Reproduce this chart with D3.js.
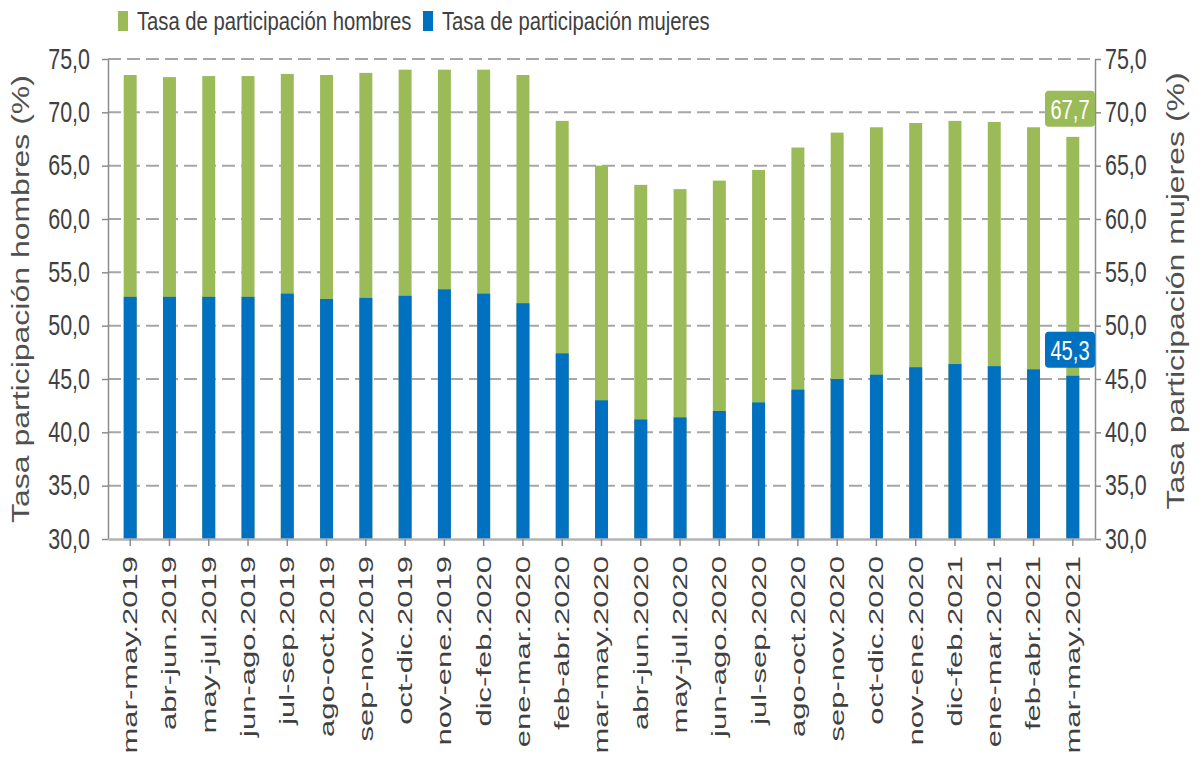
<!DOCTYPE html>
<html>
<head>
<meta charset="utf-8">
<script src="https://cdn.jsdelivr.net/npm/d3@7"></script>
<style>
  body { margin: 0; background: #fff; }
  text { font-family: "Liberation Sans", Arial, sans-serif; }
</style>
</head>
<body>
<div class="chart"></div>
<script>
// periods (moving quarters)
var periods = [
  "mar-may.2019", "abr-jun.2019", "may-jul.2019", "jun-ago.2019", "jul-sep.2019",
  "ago-oct.2019", "sep-nov.2019", "oct-dic.2019", "nov-ene.2019", "dic-feb.2020",
  "ene-mar.2020", "feb-abr.2020", "mar-may.2020", "abr-jun.2020", "may-jul.2020",
  "jun-ago.2020", "jul-sep.2020", "ago-oct.2020", "sep-nov.2020", "oct-dic.2020",
  "nov-ene.2020", "dic-feb.2021", "ene-mar.2021", "feb-abr.2021", "mar-may.2021"
];

// participation rate, men (%)
var hombres = [73.5, 73.3, 73.4, 73.4, 73.6, 73.5, 73.7, 74.0, 74.0, 74.0,
  73.5, 69.2, 65.0, 63.2, 62.8, 63.6, 64.6, 66.7, 68.1, 68.6,
  69.0, 69.2, 69.1, 68.6, 67.7];

// participation rate, women (%)
var mujeres = [52.7, 52.7, 52.7, 52.7, 53.0, 52.5, 52.6, 52.8, 53.4, 53.0,
  52.1, 47.4, 43.0, 41.2, 41.4, 42.0, 42.8, 44.0, 45.0, 45.4,
  46.1, 46.4, 46.2, 45.9, 45.3];

var yTicks = [30, 35, 40, 45, 50, 55, 60, 65, 70, 75];

var legendLabels = ["Tasa de participación hombres", "Tasa de participación mujeres"];

var green = "#9bbb59";
var blue = "#0070c0";

var svgWidth = 1202;
var svgHeight = 759;

var margin = { top: 59, right: 107, bottom: 220, left: 108 };
var width = svgWidth - margin.left - margin.right;
var height = svgHeight - margin.top - margin.bottom;

var fmt = d => d.toFixed(1).replace(".", ",");

var svg = d3.select(".chart")
  .append("svg")
  .attr("width", svgWidth)
  .attr("height", svgHeight);

var chartGroup = svg.append("g")
  .attr("transform", `translate(${margin.left}, ${margin.top})`);

// scales
var xScale = d3.scaleBand()
  .domain(periods)
  .range([0, width])
  .paddingInner(0.67)
  .paddingOuter(0.4);

var yScale = d3.scaleLinear()
  .domain([30, 75])
  .range([height, 0]);

// dashed grid lines
chartGroup.append("g")
  .selectAll("line")
  .data(yTicks.filter(d => d > 30))
  .enter()
  .append("line")
  .attr("x1", 0)
  .attr("x2", width)
  .attr("y1", d => yScale(d))
  .attr("y2", d => yScale(d))
  .attr("stroke", "#a6a6a6")
  .attr("stroke-width", 2)
  .attr("stroke-dasharray", "13,6");

// men bars (behind)
chartGroup.append("g")
  .selectAll("rect")
  .data(hombres)
  .enter()
  .append("rect")
  .attr("x", (d, i) => xScale(periods[i]))
  .attr("width", xScale.bandwidth())
  .attr("y", d => yScale(d))
  .attr("height", d => height - yScale(d))
  .attr("fill", green);

// women bars (in front)
chartGroup.append("g")
  .selectAll("rect")
  .data(mujeres)
  .enter()
  .append("rect")
  .attr("x", (d, i) => xScale(periods[i]))
  .attr("width", xScale.bandwidth())
  .attr("y", d => yScale(d))
  .attr("height", d => height - yScale(d))
  .attr("fill", blue);

// left axis
var leftAxis = chartGroup.append("g")
  .call(d3.axisLeft(yScale).tickValues(yTicks).tickFormat(fmt).tickSize(6).tickSizeOuter(0));

// right axis
var rightAxis = chartGroup.append("g")
  .attr("transform", `translate(${width}, 0)`)
  .call(d3.axisRight(yScale).tickValues(yTicks).tickFormat(fmt).tickSize(6).tickSizeOuter(0));

// bottom axis
var bottomAxis = chartGroup.append("g")
  .attr("transform", `translate(0, ${height})`)
  .call(d3.axisBottom(xScale).tickSize(7).tickSizeOuter(0));

[leftAxis, rightAxis, bottomAxis].forEach(function (ax) {
  ax.select(".domain").attr("stroke", "#8c8c8c").attr("stroke-width", 1.5);
  ax.selectAll(".tick line").attr("stroke", "#8c8c8c").attr("stroke-width", 1.5);
  ax.selectAll("text").attr("fill", "#404040").attr("font-size", 29);
});
bottomAxis.select(".domain").attr("stroke", "#b3b3b3").attr("stroke-width", 2.5);

leftAxis.selectAll("text")
  .attr("x", 0)
  .attr("text-anchor", "end")
  .attr("transform", "translate(-18,0) scale(0.74,1)");

rightAxis.selectAll("text")
  .attr("x", 0)
  .attr("text-anchor", "start")
  .attr("transform", "translate(10,0) scale(0.74,1)");

bottomAxis.selectAll("text")
  .attr("x", 0)
  .attr("y", 0)
  .attr("dy", "0.35em")
  .attr("font-size", 31)
  .attr("text-anchor", "end")
  .attr("transform", "translate(0,17) rotate(-90) scale(1,0.64)");

// axis titles
chartGroup.append("text")
  .attr("transform", `translate(${29 - margin.left}, ${height / 2}) rotate(-90) scale(1,0.75)`)
  .attr("text-anchor", "middle")
  .attr("font-size", 32)
  .attr("fill", "#505050")
  .text("Tasa participación hombres (%)");

chartGroup.append("text")
  .attr("transform", `translate(${width + 89}, ${height / 2 - 8}) rotate(-90) scale(1,0.75)`)
  .attr("text-anchor", "middle")
  .attr("font-size", 32)
  .attr("fill", "#505050")
  .text("Tasa participación mujeres (%)");

// value callouts for the last period
var last = periods.length - 1;
var callouts = [
  { v: hombres[last], c: green, off: 28 },
  { v: mujeres[last], c: blue, off: 26 }
];

var callG = chartGroup.selectAll(".callout")
  .data(callouts)
  .enter()
  .append("g")
  .attr("class", "callout")
  .attr("transform", d => `translate(${width - 50}, ${yScale(d.v) - d.off - 18})`);

callG.append("rect")
  .attr("width", 50)
  .attr("height", 36)
  .attr("rx", 4)
  .attr("fill", d => d.c);

callG.append("text")
  .attr("transform", "translate(25,18) scale(0.72,1)")
  .attr("dy", "0.35em")
  .attr("text-anchor", "middle")
  .attr("font-size", 28)
  .attr("fill", "#fff")
  .text(d => fmt(d.v));

// legend
var legendX = [118, 423];
var legend = svg.selectAll(".legend")
  .data(legendLabels)
  .enter()
  .append("g")
  .attr("class", "legend")
  .attr("transform", (d, i) => `translate(${legendX[i]}, 11)`);

legend.append("rect")
  .attr("width", 10)
  .attr("height", 20)
  .attr("fill", (d, i) => i === 0 ? green : blue);

legend.append("text")
  .attr("transform", "translate(19,10) scale(0.81,1)")
  .attr("dy", "0.35em")
  .attr("font-size", 25)
  .attr("fill", "#404040")
  .text(d => d);
</script>
</body>
</html>
